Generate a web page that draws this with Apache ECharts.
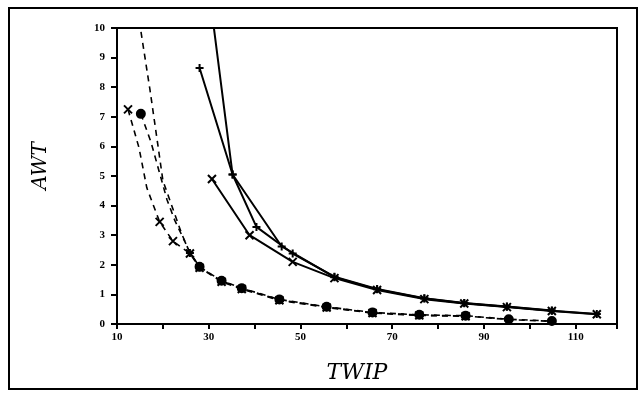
<!DOCTYPE html>
<html>
<head>
  <meta charset="utf-8">
  <script src="https://cdn.jsdelivr.net/npm/echarts@6/dist/echarts.min.js"></script>
</head>
<body style="margin:0;background:#fff">
  <div id="main" style="width:641px;height:400px"></div>
  <script type="text/javascript">
    // solid curves (three runs that merge into one tail)
    var solidA = [[30.3, 11.0], [35.2, 5.05], [45.9, 2.62], [57.4, 1.58], [66.7, 1.17], [77, 0.86], [85.7, 0.7], [95, 0.58], [104.8, 0.45], [114.6, 0.34]];
    var solidB = [[28.0, 8.65], [35.2, 5.05], [40.4, 3.28], [48.3, 2.38], [57.4, 1.6], [66.7, 1.18], [77, 0.87], [85.7, 0.71], [95, 0.59], [104.8, 0.46]];
    var solidC = [[30.7, 4.9], [38.9, 3.0], [48.3, 2.1], [57.4, 1.55], [66.7, 1.15], [77, 0.84], [85.7, 0.69], [95, 0.57], [104.8, 0.44], [114.6, 0.33]];

    // dashed curves
    var dashA = [[14.5, 10.6], [17.2, 7.9], [19.0, 5.95], [20.0, 4.85], [24.1, 3.05], [25.9, 2.4], [28, 1.92], [32.8, 1.45], [37.2, 1.2], [45.4, 0.82], [55.7, 0.57], [65.7, 0.38], [75.9, 0.3], [86, 0.27], [95.4, 0.15], [104.8, 0.09]];
    var dashB = [[12.4, 7.25], [13.7, 6.55], [14.8, 5.95], [16.5, 4.6], [19.3, 3.45], [22.2, 2.8], [25.9, 2.38], [28, 1.9], [32.8, 1.43], [37.2, 1.18], [45.4, 0.8], [55.7, 0.56], [65.7, 0.37], [75.9, 0.29], [86, 0.26]];
    var dashC = [[15.2, 7.1], [17.4, 6.15], [20.9, 4.2], [22.6, 3.5], [25.9, 2.42], [28, 1.93], [32.8, 1.46], [37.2, 1.21], [45.4, 0.83], [55.7, 0.58], [65.7, 0.39], [75.9, 0.31], [86, 0.28], [95.4, 0.16], [104.8, 0.1]];

    var xTicks = [10, 30, 50, 70, 90, 110];

    var PLUS = 'path://M5,0L5,10M0,5L10,5';
    var CROSS = 'path://M0,0L10,10M0,10L10,0';

    // markers: first point and every point from index k on
    function items(arr, sym, k) {
      return arr.map(function (p, i) {
        return { value: p, symbol: (i === 0 || i >= k) ? sym : 'none' };
      });
    }

    function mk(data, sym, k, dashed) {
      return {
        type: 'line',
        data: items(data, sym, k),
        symbolSize: 8,
        clip: true,
        lineStyle: { color: '#000', width: dashed ? 1.6 : 2, type: dashed ? [6, 5] : 'solid' },
        itemStyle: { color: '#000', borderColor: '#000', borderWidth: 2 },
        animation: false
      };
    }

    var myChart = echarts.init(document.getElementById('main'));
    myChart.setOption({
      backgroundColor: '#fff',
      graphic: [{
        type: 'rect',
        shape: { x: 9, y: 8, width: 628, height: 381 },
        style: { fill: 'none', stroke: '#000', lineWidth: 2 }
      }],
      grid: { left: 117, right: 24, top: 28, bottom: 76, show: true, borderColor: '#000', borderWidth: 2 },
      xAxis: {
        type: 'value', min: 10, max: 119, interval: 10,
        name: 'TWIP', nameLocation: 'middle', nameGap: 38,
        nameTextStyle: { fontFamily: 'DejaVu Serif', fontStyle: 'italic', fontSize: 22, color: '#000', padding: [0, 20, 0, 0] },
        axisLine: { lineStyle: { color: '#000', width: 2 } },
        axisTick: { lineStyle: { color: '#000', width: 2 }, length: 5 },
        splitLine: { show: false },
        axisLabel: {
          color: '#000', fontFamily: 'Liberation Serif', fontWeight: 'bold', fontSize: 11,
          formatter: function (v) { return xTicks.indexOf(v) >= 0 ? v : ''; }
        }
      },
      yAxis: {
        type: 'value', min: 0, max: 10, interval: 1,
        name: 'AWT', nameLocation: 'middle', nameGap: 66,
        nameTextStyle: { fontFamily: 'DejaVu Serif', fontStyle: 'italic', fontSize: 20, color: '#000', padding: [0, 0, 0, 20] },
        axisLine: { show: true, lineStyle: { color: '#000', width: 2 } },
        axisTick: { show: true, lineStyle: { color: '#000', width: 2 }, length: 6 },
        splitLine: { show: false },
        axisLabel: { color: '#000', fontFamily: 'Liberation Serif', fontWeight: 'bold', fontSize: 11, margin: 12 }
      },
      series: [
        mk(solidA, PLUS, 1, false),
        mk(solidB, PLUS, 1, false),
        mk(solidC, CROSS, 1, false),
        mk(dashA, PLUS, 5, true),
        mk(dashB, CROSS, 4, true),
        mk(dashC, 'circle', 5, true)
      ]
    });
  </script>
</body>
</html>
